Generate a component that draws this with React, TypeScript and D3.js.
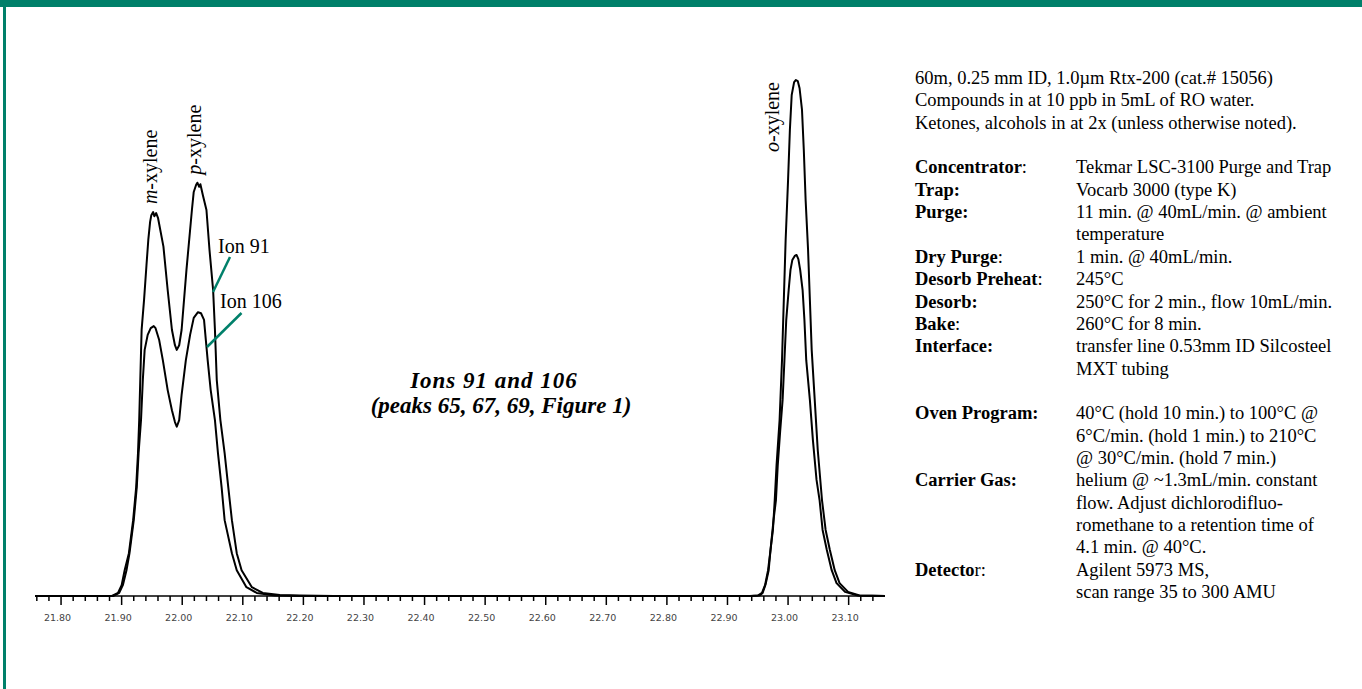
import React, { useRef, useEffect } from "react";
import * as d3 from "d3";

type Pt = [number, number]; // [retention time (min), relative abundance]

// Ion 91 trace (taller)
const ion91: Pt[] = [
  [21.757, 0], [21.884, 0], [21.894, 0.6], [21.9, 2.1], [21.905, 5.0], [21.912, 8.3],
  [21.919, 14.7], [21.924, 21.1], [21.927, 27.7], [21.929, 34.1], [21.933, 51.6],
  [21.937, 57.4], [21.941, 64.1], [21.944, 69.0], [21.947, 72.5], [21.949, 73.8],
  [21.952, 74.4], [21.954, 73.6], [21.957, 74.2], [21.96, 73.3], [21.969, 67.7],
  [21.976, 59.3], [21.983, 51.6], [21.988, 48.6], [21.991, 47.7], [21.995, 48.6],
  [21.999, 51.6], [22.007, 63.2], [22.016, 74.8], [22.019, 78.3], [22.023, 79.7],
  [22.025, 80.1], [22.028, 79.3], [22.03, 79.8], [22.034, 77.7], [22.04, 74.8],
  [22.045, 67.1], [22.051, 59.3], [22.054, 51.6], [22.057, 41.9], [22.063, 34.1],
  [22.07, 27.7], [22.076, 21.1], [22.082, 14.7], [22.09, 8.3], [22.098, 5.0],
  [22.115, 1.7], [22.133, 0.6], [22.161, 0.2], [22.194, 0.1], [22.25, 0],
  [22.937, 0], [22.95, 0.1], [22.957, 0.6], [22.962, 2.1], [22.967, 5.0], [22.97, 7.9],
  [22.975, 12.8], [22.978, 18.6], [22.981, 25.4], [22.986, 34.1], [22.99, 45.7],
  [22.993, 57.4], [22.996, 69.0], [23.0, 80.6], [23.003, 90.3], [23.006, 97.1],
  [23.01, 99.6], [23.013, 100], [23.016, 99.8], [23.019, 98.4], [23.023, 94.2],
  [23.026, 86.4], [23.029, 76.7], [23.033, 67.1], [23.036, 57.4], [23.039, 47.7],
  [23.044, 38.0], [23.049, 28.3], [23.056, 18.6], [23.062, 12.8], [23.069, 8.9],
  [23.077, 5.0], [23.085, 2.5], [23.099, 0.8], [23.118, 0.1], [23.16, 0],
];

// Ion 106 trace (shorter)
const ion106: Pt[] = [
  [21.757, 0], [21.886, 0], [21.896, 0.6], [21.902, 2.1], [21.908, 5.0], [21.913, 8.3],
  [21.92, 14.7], [21.925, 21.1], [21.928, 27.7], [21.932, 34.1], [21.935, 41.9],
  [21.938, 47.7], [21.943, 50.6], [21.948, 51.9], [21.953, 52.3], [21.956, 51.9],
  [21.962, 49.6], [21.968, 45.7], [21.976, 39.9], [21.983, 36.0], [21.988, 33.7],
  [21.991, 32.8], [21.995, 34.1], [21.999, 39.0], [22.006, 45.7], [22.013, 50.6],
  [22.019, 53.9], [22.026, 55.0], [22.031, 54.8], [22.036, 53.5], [22.039, 49.6],
  [22.042, 45.7], [22.047, 39.9], [22.054, 34.1], [22.059, 27.7], [22.065, 21.1],
  [22.07, 14.7], [22.082, 8.3], [22.09, 5.0], [22.106, 1.7], [22.123, 0.6],
  [22.153, 0.1], [22.194, 0],
  [22.94, 0], [22.953, 0.1], [22.958, 0.6], [22.963, 2.3], [22.968, 5.0], [22.971, 8.9],
  [22.976, 14.7], [22.98, 18.6], [22.983, 25.4], [22.987, 32.0], [22.991, 38.0],
  [22.994, 45.7], [22.997, 53.5], [23.001, 59.3], [23.004, 63.2], [23.007, 65.1],
  [23.011, 65.9], [23.014, 66.1], [23.017, 65.3], [23.02, 63.2], [23.024, 59.3],
  [23.027, 53.5], [23.03, 45.7], [23.036, 38.0], [23.041, 30.2], [23.047, 22.5],
  [23.052, 18.6], [23.057, 12.8], [23.064, 8.9], [23.072, 5.0], [23.08, 2.5],
  [23.094, 0.8], [23.115, 0.1], [23.16, 0],
];

const tickLabels = [
  "21.80", "21.90", "22.00", "22.10", "22.20", "22.30", "22.40",
  "22.50", "22.60", "22.70", "22.80", "22.90", "23.00", "23.10",
];

const peakNames = [
  { italic: "m", rest: "-xylene", time: 21.952, height: 74.4 },
  { italic: "p", rest: "-xylene", time: 22.025, height: 80.1 },
  { italic: "o", rest: "-xylene", time: 22.985, height: 100 },
];

const titleLines = ["Ions 91 and 106", "(peaks 65, 67, 69, Figure 1)"];

const headerLines = [
  "60m, 0.25 mm ID, 1.0µm Rtx-200 (cat.# 15056)",
  "Compounds in at 10 ppb in 5mL of RO water.",
  "Ketones, alcohols in at 2x (unless otherwise noted).",
];

// label = bold part, tail = regular part, value = lines
const trapRows = [
  { label: "Concentrator", tail: ":", value: ["Tekmar LSC-3100 Purge and Trap"] },
  { label: "Trap:", tail: "", value: ["Vocarb 3000 (type K)"] },
  { label: "Purge:", tail: "", value: ["11 min. @ 40mL/min. @ ambient", "temperature"] },
  { label: "Dry Purge", tail: ":", value: ["1 min. @ 40mL/min."] },
  { label: "Desorb Preheat", tail: ":", value: ["245°C"] },
  { label: "Desorb:", tail: "", value: ["250°C for 2 min., flow 10mL/min."] },
  { label: "Bake", tail: ":", value: ["260°C for 8 min."] },
  { label: "Interface:", tail: "", value: ["transfer line 0.53mm ID Silcosteel", "MXT tubing"] },
];

const gcRows = [
  { label: "Oven Program:", tail: "", value: ["40°C (hold 10 min.) to 100°C @", "6°C/min. (hold 1 min.) to 210°C", "@ 30°C/min. (hold 7 min.)"] },
  { label: "Carrier Gas:", tail: "", value: ["helium @ ~1.3mL/min. constant", "flow. Adjust dichlorodifluo-", "romethane to a retention time of", "4.1 min. @ 40°C."] },
  { label: "Detecto", tail: "r:", value: ["Agilent 5973 MS,", "scan range 35 to 300 AMU"] },
];

const teal = "#00806a";
const serif = "'Liberation Serif', 'Times New Roman', serif";

const App: React.FC = () => {
  const svgRef = useRef<SVGSVGElement | null>(null);

  const width = 1362;
  const height = 689;

  const xScale = d3.scaleLinear().domain([21.757, 23.16]).range([35, 885]);
  const yScale = d3.scaleLinear().domain([0, 100]).range([596, 80]);

  useEffect(() => {
    if (!svgRef.current) return;
    const svg = d3.select(svgRef.current);
    svg.selectAll("*").remove();

    // frame: top band + left rule
    svg.append("rect").attr("x", 0).attr("y", 0).attr("width", width).attr("height", 7).attr("fill", teal);
    svg.append("rect").attr("x", 3).attr("y", 0).attr("width", 3).attr("height", height).attr("fill", teal);

    // axis line
    const axisY = yScale(0);
    svg.append("line")
      .attr("x1", xScale.range()[0]).attr("x2", xScale.range()[1])
      .attr("y1", axisY).attr("y2", axisY)
      .attr("stroke", "#000").attr("stroke-width", 1.5);

    // ticks every 0.02, major every 0.1
    const minor = d3.range(0, 70).map((i) => +(21.76 + i * 0.02).toFixed(2));
    svg.selectAll(".tick").data(minor).enter().append("line")
      .attr("x1", (d) => xScale(d)).attr("x2", (d) => xScale(d))
      .attr("y1", axisY)
      .attr("y2", (d) => (Math.round(d * 100) % 10 === 0 ? axisY + 9 : axisY + 5))
      .attr("stroke", "#000")
      .attr("stroke-width", 1.5);

    svg.selectAll(".tlabel").data(tickLabels).enter().append("text")
      .attr("x", (d) => xScale(+d) - 3.5)
      .attr("y", axisY + 25)
      .attr("text-anchor", "middle")
      .attr("font-family", "'DejaVu Sans', sans-serif")
      .attr("font-size", 9.5)
      .attr("fill", "#444")
      .text((d) => d);

    // traces
    const line = d3.line<Pt>().x((d) => xScale(d[0])).y((d) => yScale(d[1]));
    [ion106, ion91].forEach((s) => {
      svg.append("path")
        .attr("d", line(s))
        .attr("fill", "none")
        .attr("stroke", "#000")
        .attr("stroke-width", 2)
        .attr("stroke-linejoin", "round");
    });

    // peak names (rotated)
    peakNames.forEach((p, i) => {
      const px = xScale(p.time) + (i < 2 ? 4 : 0);
      const py = i < 2 ? yScale(p.height) - 8 : 152;
      const t = svg.append("text")
        .attr("transform", `translate(${px},${py}) rotate(-90)`)
        .attr("font-family", serif)
        .attr("font-size", 20);
      t.append("tspan").attr("font-style", "italic").text(p.italic);
      t.append("tspan").text(p.rest);
    });

    // ion callouts
    svg.append("line").attr("x1", 230).attr("y1", 257).attr("x2", 213).attr("y2", 292)
      .attr("stroke", teal).attr("stroke-width", 2.5);
    svg.append("line").attr("x1", 241.5).attr("y1", 313).attr("x2", 207).attr("y2", 347)
      .attr("stroke", teal).attr("stroke-width", 2.5);
    svg.append("text").attr("x", 218).attr("y", 253).attr("font-family", serif).attr("font-size", 20).text("Ion 91");
    svg.append("text").attr("x", 220).attr("y", 308).attr("font-family", serif).attr("font-size", 20).text("Ion 106");

    // central title
    svg.append("text").attr("x", 494).attr("y", 388)
      .attr("text-anchor", "middle").attr("font-family", serif).attr("font-size", 23)
      .attr("font-weight", "bold").attr("font-style", "italic").attr("letter-spacing", 1)
      .text(titleLines[0]);
    svg.append("text").attr("x", 501).attr("y", 413)
      .attr("text-anchor", "middle").attr("font-family", serif).attr("font-size", 23)
      .attr("font-weight", "bold").attr("font-style", "italic")
      .text(titleLines[1]);

    // notes block
    const lx = 915;
    const vx = 1076;
    const lh = 22.35;
    let row = 0;
    const baseY = 84;
    const note = svg.append("g").attr("font-family", serif).attr("font-size", 18.5).attr("fill", "#000");
    headerLines.forEach((s) => {
      note.append("text").attr("x", lx).attr("y", baseY + row * lh).text(s);
      row++;
    });
    row++;
    const drawRows = (rows: typeof trapRows) => {
      rows.forEach((r) => {
        const t = note.append("text").attr("x", lx).attr("y", baseY + row * lh);
        t.append("tspan").attr("font-weight", "bold").text(r.label);
        if (r.tail) t.append("tspan").text(r.tail);
        r.value.forEach((v) => {
          note.append("text").attr("x", vx).attr("y", baseY + row * lh).text(v);
          row++;
        });
      });
    };
    drawRows(trapRows);
    row++;
    drawRows(gcRows);
  }, []);

  return (
    <svg
      ref={svgRef}
      width={width}
      height={height}
      style={{ display: "block", position: "absolute", left: 0, top: 0, background: "#fff" }}
    />
  );
};

export default App;
